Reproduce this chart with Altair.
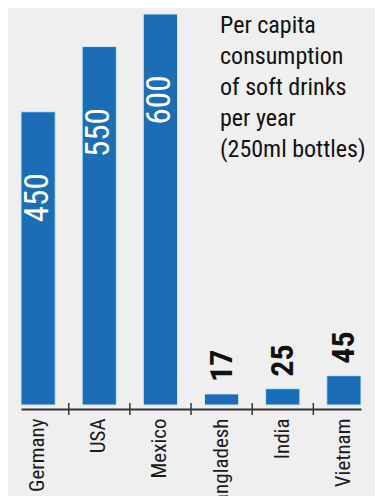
import altair as alt
import pandas as pd

countries = ["Germany", "USA", "Mexico", "Bangladesh", "India", "Vietnam"]
values = [450, 550, 600, 17, 25, 45]
title_lines = ["Per capita", "consumption", "of soft drinks", "per year", "(250ml bottles)"]

df = pd.DataFrame({"country": countries, "value": values})

FONT = "Roboto Condensed, DejaVu Sans Condensed, sans-serif"
BLUE = "#1b6db5"
BG = "#efefef"

x = alt.X("country:N", sort=countries,
          scale=alt.Scale(paddingInner=0.44, paddingOuter=0),
          axis=alt.Axis(title=None, labelAngle=-90, labelFont=FONT, labelFontSize=21,
                        labelColor="#1a1a1a", ticks=False, tickSize=0, labelPadding=9,
                        domainColor="#333333", domainWidth=2, offset=4))
y = alt.Y("value:Q", scale=alt.Scale(domain=[0, 600], nice=False), axis=None)

base = alt.Chart(df)

bars = base.mark_bar(color=BLUE, stroke="#c8ecf8", strokeWidth=1).encode(x=x, y=y)

inside = base.transform_filter("datum.value > 100").mark_text(
    angle=270, align="center", baseline="middle", dx=-86, font=FONT, fontSize=33,
    color="white").encode(x=alt.X("country:N", sort=countries), y="value:Q", text="value:Q")

above = base.transform_filter("datum.value <= 100").mark_text(
    angle=270, align="left", baseline="middle", dx=12, font=FONT, fontSize=32,
    fontWeight="bold", color="#111111").encode(
    x=alt.X("country:N", sort=countries), y="value:Q", text="value:Q")

ticks = base.transform_filter("datum.country != 'Vietnam'").mark_rule(
    color="#333333", strokeWidth=1.5, xOffset=30.6, yOffset=-2, y2Offset=10).encode(
    x=alt.X("country:N", sort=countries), y=alt.datum(0), y2=alt.datum(0))

chart = alt.layer(bars, inside, above, ticks).properties(
    width=340, height=391,
    padding={"left": 13, "top": 6, "right": 14, "bottom": 91},
    autosize=alt.AutoSizeParams(type="none"),
    background=BG,
    title=alt.Title(title_lines, anchor="start", frame="group", orient="top",
                    align="left", baseline="top", dx=199, dy=148, offset=0,
                    font=FONT, fontSize=24, fontWeight="normal", color="#111111",
                    lineHeight=31),
).configure_view(stroke=None)

chart.save("out.html", embed_options={"renderer": "svg", "actions": False})
